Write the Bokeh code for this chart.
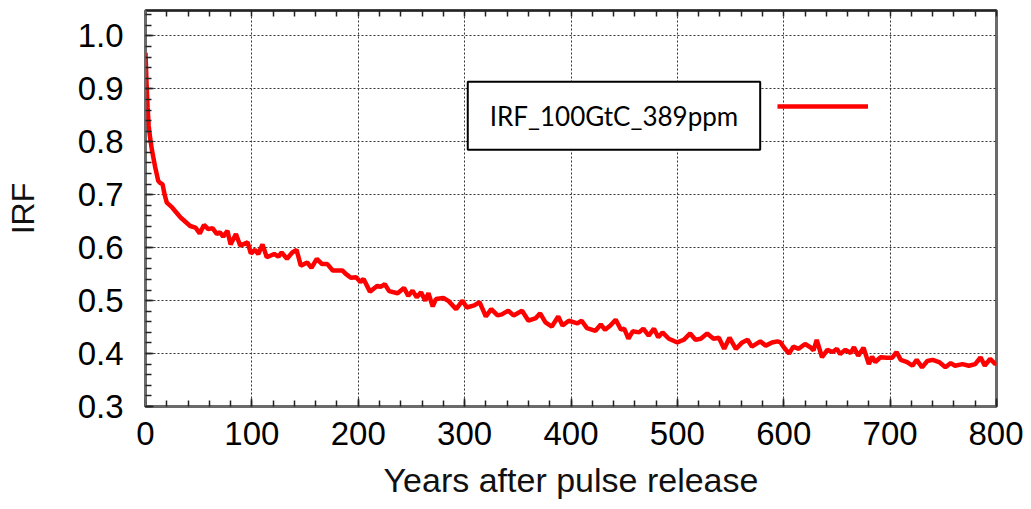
from bokeh.plotting import figure
from bokeh.models import (FixedTicker, LinearAxis, Label, Legend, LegendItem,
                          NumeralTickFormatter, Range1d)
from bokeh.embed import file_html
from bokeh.resources import INLINE

# ---- data ----
years = [0, 1, 2, 3, 4.5, 6, 9, 12, 14, 16, 18, 20, 25, 33, 42, 47, 51, 55, 59, 63,
         67, 70, 73, 77, 80, 85, 89, 96, 99, 103, 106, 110, 114, 121, 125, 128, 133,
         138, 142, 146, 152, 156, 161, 166, 171, 176, 185, 188, 193, 198, 202, 205,
         211, 218, 221, 225, 229, 237, 243, 247, 251, 255, 259, 263, 266, 270, 273,
         280, 285, 292, 298, 302, 309, 314, 320, 325, 331, 335, 341, 346, 354, 360,
         367, 371, 376, 382, 388, 392, 398, 403, 406, 410, 415, 423, 428, 432, 437,
         442, 447, 450, 454, 458, 464, 468, 473, 478, 482, 486, 492, 500, 506, 512,
         517, 522, 528, 534, 539, 544, 549, 555, 561, 566, 570, 578, 583, 589, 594,
         597, 600, 605, 609, 614, 620, 625, 628, 631, 636, 641, 646, 650, 653, 658,
         663, 666, 670, 675, 680, 683, 686, 691, 697, 702, 706, 710, 716, 721, 725,
         730, 735, 740, 746, 752, 757, 761, 768, 774, 780, 785, 789, 794, 799, 800]
irf = [0.968, 0.910, 0.865, 0.830, 0.805, 0.785, 0.753, 0.726, 0.722, 0.720, 0.700,
       0.685, 0.676, 0.657, 0.641, 0.638, 0.627, 0.643, 0.635, 0.637, 0.626, 0.629,
       0.621, 0.632, 0.606, 0.626, 0.604, 0.610, 0.589, 0.596, 0.588, 0.606, 0.582,
       0.588, 0.583, 0.591, 0.579, 0.591, 0.596, 0.566, 0.572, 0.562, 0.579, 0.569,
       0.569, 0.557, 0.557, 0.551, 0.543, 0.544, 0.535, 0.541, 0.517, 0.528, 0.526,
       0.531, 0.518, 0.514, 0.524, 0.509, 0.519, 0.506, 0.516, 0.500, 0.514, 0.489,
       0.503, 0.505, 0.499, 0.484, 0.500, 0.487, 0.491, 0.497, 0.470, 0.484, 0.472,
       0.474, 0.481, 0.472, 0.481, 0.462, 0.467, 0.476, 0.459, 0.451, 0.470, 0.453,
       0.462, 0.459, 0.457, 0.462, 0.448, 0.443, 0.455, 0.445, 0.453, 0.464, 0.445,
       0.447, 0.428, 0.442, 0.440, 0.447, 0.434, 0.447, 0.431, 0.440, 0.428, 0.421,
       0.426, 0.438, 0.426, 0.428, 0.438, 0.428, 0.430, 0.409, 0.430, 0.409, 0.421,
       0.426, 0.413, 0.423, 0.415, 0.421, 0.423, 0.421, 0.412, 0.400, 0.413, 0.409,
       0.418, 0.412, 0.406, 0.426, 0.393, 0.407, 0.403, 0.409, 0.399, 0.407, 0.401,
       0.412, 0.396, 0.411, 0.380, 0.394, 0.384, 0.393, 0.392, 0.392, 0.403, 0.388,
       0.384, 0.377, 0.388, 0.374, 0.386, 0.388, 0.384, 0.374, 0.382, 0.377, 0.380,
       0.377, 0.380, 0.393, 0.377, 0.390, 0.380, 0.383]

series_name = "IRF_100GtC_389ppm"
x_ticks = [0, 100, 200, 300, 400, 500, 600, 700, 800]
x_minor = list(range(0, 801, 20))
y_ticks = [0.3, 0.4, 0.5, 0.6, 0.7, 0.8, 0.9, 1.0]
y_minor = [round(0.3 + 0.02 * i, 2) for i in range(38)]
x_title = "Years after pulse release"
y_title = "IRF"

FONT = "Liberation Sans"
AXIS_GRAY = "#6b6b6b"
TICK = "#222222"

p = figure(width=1023, height=501, output_backend="svg", toolbar_location=None,
           x_range=Range1d(0, 800), y_range=Range1d(0.3, 1.048),
           min_border_left=145, min_border_right=27, min_border_top=10,
           min_border_bottom=95)
p.background_fill_color = "white"
p.border_fill_color = "white"
p.outline_line_color = AXIS_GRAY
p.outline_line_width = 3

r = p.line(years, irf, line_color="#ff0000", line_width=4.5)

xa = p.xaxis[0]
ya = p.yaxis[0]
xa.ticker = FixedTicker(ticks=x_ticks, minor_ticks=x_minor)
ya.ticker = FixedTicker(ticks=y_ticks, minor_ticks=y_minor)
ya.formatter = NumeralTickFormatter(format="0.0")
xa.axis_label = x_title
ya.axis_label = y_title
for ax in (xa, ya):
    ax.axis_line_color = AXIS_GRAY
    ax.axis_line_width = 2
    ax.major_tick_in = 8
    ax.major_tick_out = 0
    ax.minor_tick_in = 6
    ax.minor_tick_out = 0
    ax.major_tick_line_color = TICK
    ax.minor_tick_line_color = TICK
    ax.major_tick_line_width = 1.5
    ax.minor_tick_line_width = 1.5
    ax.major_label_text_font = FONT
    ax.major_label_text_font_size = "33px"
    ax.major_label_text_color = "black"
    ax.axis_label_text_font = FONT
    ax.axis_label_text_font_style = "normal"
    ax.axis_label_text_color = "#111111"
xa.axis_label_text_font_size = "34px"
ya.axis_label_text_font_size = "32px"
xa.major_label_standoff = 15
xa.axis_label_standoff = 13
ya.major_label_standoff = 22
ya.axis_label_standoff = 34

# top edge: minor ticks only, no labels
ta = LinearAxis(ticker=FixedTicker(ticks=[], minor_ticks=x_minor),
                major_label_standoff=0, major_tick_in=0, major_tick_out=0,
                minor_tick_in=6, minor_tick_out=0,
                axis_line_color=TICK, axis_line_width=2,
                minor_tick_line_color=TICK, minor_tick_line_width=1.5)
p.add_layout(ta, "above")

for g in (p.xgrid[0], p.ygrid[0]):
    g.grid_line_color = "#333333"
    g.grid_line_dash = "2 2"
    g.grid_line_width = 1
p.xgrid[0].ticker = FixedTicker(ticks=x_ticks)
p.ygrid[0].ticker = FixedTicker(ticks=y_ticks)

# legend: text box with the sample line to its right
lbl = Label(x=440.4, y=0.849, text=series_name, text_font="Lato",
            text_font_size="26px", text_color="black", text_align="center",
            text_baseline="middle", border_line_color="black", border_line_width=2,
            background_fill_color="white", padding=(22, 18))
p.add_layout(lbl)

leg = Legend(items=[LegendItem(label=" ", renderers=[r])], location=(632, 295),
             glyph_width=91, glyph_height=10, label_width=0, label_height=10,
             label_standoff=0, label_text_font_size="8px", padding=0, margin=0,
             spacing=0, border_line_alpha=0, background_fill_alpha=0)
p.add_layout(leg)

open("out.html", "w").write(file_html(p, INLINE))
